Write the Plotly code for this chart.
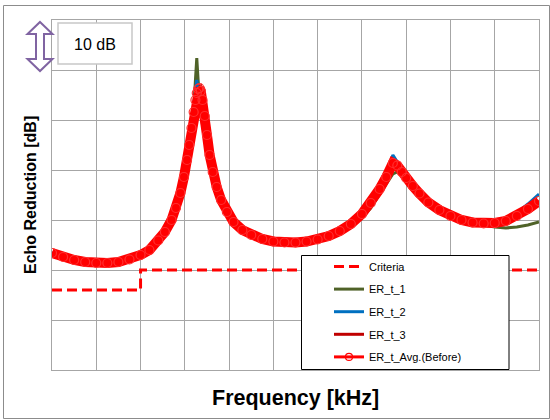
import plotly.graph_objects as go

# ---------------- data ----------------
freq = [0, 0.25, 0.5, 0.75, 1.0, 1.25, 1.5, 1.75, 2.0, 2.2,
        2.4, 2.55, 2.7, 2.8, 2.9, 2.98, 3.05, 3.1, 3.15, 3.2,
        3.24, 3.27, 3.3, 3.33, 3.36, 3.4, 3.45, 3.5, 3.56, 3.63,
        3.72, 3.82, 3.95, 4.1, 4.3, 4.5, 4.75, 5.0, 5.25, 5.5,
        5.75, 6.0, 6.25, 6.5, 6.75, 7.0, 7.2, 7.4, 7.55, 7.7,
        7.8, 7.9, 8.0, 8.15, 8.3, 8.5, 8.75, 9.0, 9.25, 9.5,
        9.75, 10.0, 10.25, 10.5, 10.75, 11.0]

er_avg = [23.4, 22.6, 22.0, 21.6, 21.4, 21.4, 21.6, 22.1, 23.0, 24.0,
          25.9, 27.6, 30.0, 32.4, 35.4, 38.6, 42.0, 45.0, 48.4, 51.6,
          54.0, 55.4, 56.2, 56.4, 55.8, 54.0, 50.8, 47.0, 43.0, 39.6,
          36.6, 34.0, 31.6, 29.6, 28.0, 27.0, 26.2, 25.7, 25.5, 25.5,
          25.7, 26.1, 26.8, 27.8, 29.2, 31.2, 33.4, 36.2, 38.6, 41.4,
          40.9, 39.6, 38.4, 36.8, 35.3, 33.5, 32.0, 30.8, 30.0, 29.5,
          29.3, 29.4, 29.8, 30.8, 32.2, 33.8]

er_t1 = [23.4, 22.6, 22.0, 21.6, 21.4, 21.4, 21.6, 22.1, 23.0, 24.0,
         25.9, 27.6, 30.0, 32.4, 35.4, 38.6, 42.0, 45.0, 48.0, 52.0,
         58.0, 62.4, 58.0, 54.5, 51.5, 49.0, 46.5, 44.0, 41.0, 38.3,
         35.6, 33.6, 31.4, 29.5, 28.0, 27.0, 26.2, 25.7, 25.5, 25.5,
         25.7, 26.0, 26.6, 27.5, 28.7, 30.4, 32.4, 35.0, 37.2, 39.2,
         39.6, 39.0, 38.0, 36.6, 35.2, 33.5, 32.0, 30.8, 30.0, 29.4,
         29.0, 28.6, 28.4, 28.6, 29.0, 29.6]

er_t2 = [23.4, 22.6, 22.0, 21.6, 21.4, 21.4, 21.6, 22.1, 23.0, 24.0,
         25.9, 27.6, 30.0, 32.4, 35.4, 38.6, 42.0, 45.2, 48.8, 52.5,
         56.5, 58.0, 56.0, 53.5, 51.5, 49.5, 47.0, 44.5, 41.5, 38.6,
         35.9, 33.7, 31.5, 29.6, 28.0, 27.0, 26.2, 25.7, 25.5, 25.5,
         25.7, 26.1, 26.8, 27.8, 29.3, 31.4, 33.6, 36.4, 39.6, 43.0,
         41.6, 39.8, 38.4, 36.8, 35.3, 33.5, 32.0, 30.8, 30.0, 29.5,
         29.4, 29.6, 30.0, 31.4, 33.2, 35.2]

er_t3 = [23.4, 22.6, 22.0, 21.6, 21.4, 21.4, 21.6, 22.1, 23.0, 24.0,
         25.9, 27.6, 30.0, 32.4, 35.2, 38.2, 41.4, 44.2, 46.8, 49.0,
         51.5, 53.5, 55.5, 56.6, 56.8, 55.5, 52.0, 48.0, 44.0, 40.3,
         37.0, 34.2, 31.7, 29.6, 28.0, 27.0, 26.2, 25.7, 25.5, 25.5,
         25.7, 26.1, 26.8, 27.8, 29.2, 31.2, 33.4, 36.2, 38.8, 41.8,
         41.3, 39.8, 38.5, 36.8, 35.3, 33.5, 32.0, 30.8, 30.0, 29.5,
         29.3, 29.4, 29.8, 30.8, 32.2, 33.8]

crit_freq = [0, 2.0, 2.0, 11.0]
crit_val = [16, 16, 20, 20]

series_names = ["Criteria", "ER_t_1", "ER_t_2", "ER_t_3", "ER_t_Avg.(Before)"]

# ---------------- layout geometry ----------------
W, H = 550, 420
L, R, T, B = 52, 11, 20, 50
PW, PH = W - L - R, H - T - B


def px(x):
    return (x - L) / PW


def py(y):
    return (H - B - y) / PH


FONT = "Liberation Sans"
GRID = "#a6a6a6"

fig = go.Figure()

fig.add_trace(go.Scatter(x=crit_freq, y=crit_val, mode="lines", name=series_names[0],
                         legendgroup="g0",
                         line=dict(color="#ff0000", width=3, dash="10px,5px")))
fig.add_trace(go.Scatter(x=freq, y=er_t1, mode="lines", name=series_names[1],
                         legendgroup="g1", line=dict(color="#4f6228", width=3)))
fig.add_trace(go.Scatter(x=freq, y=er_t2, mode="lines", name=series_names[2],
                         legendgroup="g2", line=dict(color="#0070c0", width=3)))
fig.add_trace(go.Scatter(x=freq, y=er_t3, mode="lines", name=series_names[3],
                         legendgroup="g3", line=dict(color="#c00000", width=3)))
# thick averaged band with open-circle markers
fig.add_trace(go.Scatter(x=freq, y=er_avg, mode="lines+markers", name=series_names[4],
                         legendgroup="g4", showlegend=False,
                         line=dict(color="#ff0000", width=10),
                         marker=dict(symbol="circle-open", size=9, color="#ff3030",
                                     line=dict(width=1.2))))
# legend entry for the average series
fig.add_trace(go.Scatter(x=[None], y=[None], mode="lines+markers", name=series_names[4],
                         legendgroup="g4",
                         line=dict(color="#ff0000", width=3),
                         marker=dict(symbol="circle-open", size=7, color="#ff0000",
                                     line=dict(width=1.2))))

axis_common = dict(showticklabels=False, ticks="", showgrid=True, gridcolor=GRID,
                   gridwidth=1, zeroline=False, showline=True, linecolor=GRID,
                   linewidth=1, mirror=True, fixedrange=True)

fig.update_xaxes(range=[0, 11], dtick=1, tick0=0, **axis_common)
fig.update_yaxes(range=[0, 70], dtick=10, tick0=0, **axis_common)

# decorations: outer border, legend frame, 10 dB box, double arrow
arrow_pts = [(40, 22), (52.5, 34), (44, 34), (44, 59), (52.5, 59), (40, 71),
             (27.5, 59), (36, 59), (36, 34), (27.5, 34)]
arrow_path = "M " + " L ".join(f"{px(a):.5f},{py(b):.5f}" for a, b in arrow_pts) + " Z"

shapes = [
    dict(type="rect", xref="paper", yref="paper", x0=px(3.5), x1=px(549.5),
         y0=py(418.5), y1=py(5.5), line=dict(color="#8c8c8c", width=1), layer="below"),
    dict(type="rect", xref="paper", yref="paper", x0=px(301.5), x1=px(509),
         y0=py(369.5), y1=py(255.5), line=dict(color="#000000", width=1),
         fillcolor="white", layer="above"),
    dict(type="rect", xref="paper", yref="paper", x0=px(58), x1=px(132),
         y0=py(64), y1=py(23), line=dict(color="#c8c8c8", width=1.5),
         fillcolor="white", layer="above"),
    dict(type="path", xref="paper", yref="paper", path=arrow_path,
         line=dict(color="#8064a2", width=2), fillcolor="white", layer="above"),
]

annotations = [
    dict(text="10 dB", xref="paper", yref="paper", x=px(95), y=py(44),
         showarrow=False, font=dict(family=FONT, size=16, color="#000000"),
         xanchor="center", yanchor="middle"),
    dict(text="<b>Echo Reduction [dB]</b>", xref="paper", yref="paper",
         x=px(30), y=py(195), textangle=-90, showarrow=False,
         font=dict(family=FONT, size=16, color="#000000"),
         xanchor="center", yanchor="middle"),
    dict(text="<b>Frequency [kHz]</b>", xref="paper", yref="paper",
         x=px(295.5), y=py(398), showarrow=False,
         font=dict(family=FONT, size=21.5, color="#000000"),
         xanchor="center", yanchor="middle"),
]

fig.update_layout(
    width=W, height=H,
    margin=dict(l=L, r=R, t=T, b=B, pad=0),
    paper_bgcolor="white", plot_bgcolor="white",
    font=dict(family=FONT, size=11, color="#000000"),
    shapes=shapes, annotations=annotations,
    legend=dict(x=px(301), y=py(252), xanchor="left", yanchor="top",
                bgcolor="rgba(0,0,0,0)", borderwidth=0,
                traceorder="grouped", tracegroupgap=3.6, indentation=28,
                font=dict(family=FONT, size=11, color="#000000")),
)

fig.write_html("out.html")
